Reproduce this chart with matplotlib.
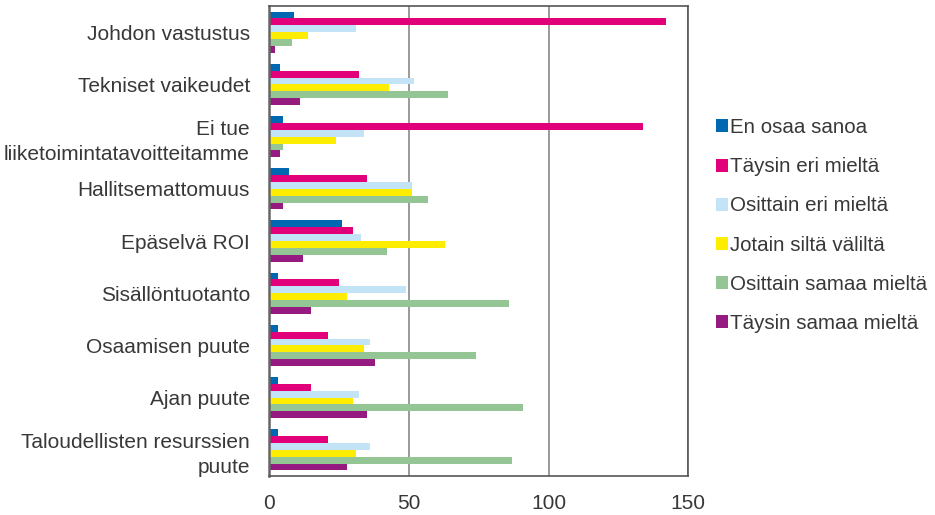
import numpy as np
import matplotlib
matplotlib.use("Agg")
import matplotlib.pyplot as plt

plt.rcParams['font.family'] = ['Liberation Sans', 'DejaVu Sans']

categories = [
    "Johdon vastustus",
    "Tekniset vaikeudet",
    "Ei tue\nliiketoimintatavoitteitamme",
    "Hallitsemattomuus",
    "Epäselvä ROI",
    "Sisällöntuotanto",
    "Osaamisen puute",
    "Ajan puute",
    "Taloudellisten resurssien\npuute",
]

series_names = [
    "En osaa sanoa",
    "Täysin eri mieltä",
    "Osittain eri mieltä",
    "Jotain siltä väliltä",
    "Osittain samaa mieltä",
    "Täysin samaa mieltä",
]

en_osaa_sanoa = [9, 4, 5, 7, 26, 3, 3, 3, 3]
taysin_eri = [142, 32, 134, 35, 30, 25, 21, 15, 21]
osittain_eri = [31, 52, 34, 51, 33, 49, 36, 32, 36]
jotain_valilta = [14, 43, 24, 51, 63, 28, 34, 30, 31]
osittain_samaa = [8, 64, 5, 57, 42, 86, 74, 91, 87]
taysin_samaa = [2, 11, 4, 5, 12, 15, 38, 35, 28]

colors = ["#0068B0", "#E2007A", "#C2E4F6", "#FFED00", "#93C595", "#951B81"]

x_ticks = [0, 50, 100, 150]

values = [en_osaa_sanoa, taysin_eri, osittain_eri,
          jotain_valilta, osittain_samaa, taysin_samaa]

text_color = "#383838"

fig = plt.figure(figsize=(9.35, 5.15), dpi=100)
ax = fig.add_axes([0.288, 0.076, 0.448, 0.912])

n_series = len(values)
bar_h = 0.132
y = np.arange(len(categories))
for i, (vals, col, name) in enumerate(zip(values, colors, series_names)):
    offset = (i - (n_series - 1) / 2) * bar_h
    ax.barh(y + offset, vals, height=bar_h, color=col, label=name,
            linewidth=0, zorder=3)

ax.set_ylim(len(categories) - 0.5, -0.5)
ax.set_xlim(0, 150)
ax.set_xticks(x_ticks)
ax.set_xticklabels([str(t) for t in x_ticks])
ax.set_yticks(y)
ax.set_yticklabels(categories, linespacing=1.4)

ax.tick_params(axis="both", length=0, labelsize=15, colors=text_color)
ax.tick_params(axis="y", pad=14)
ax.tick_params(axis="x", pad=13)

ax.xaxis.grid(True, color="#9a9a9a", linewidth=1.4, zorder=0)
ax.yaxis.grid(False)
for side, sp in ax.spines.items():
    sp.set_color("#555555")
    sp.set_linewidth(1.2)
    sp.set_zorder(4)
ax.spines["left"].set_color("#666666")
ax.spines["left"].set_linewidth(1.8)

handles, labels = ax.get_legend_handles_labels()
leg = fig.legend(handles, labels, loc="center left",
                 bbox_to_anchor=(0.7455, 0.562), frameon=False,
                 fontsize=14.8, handlelength=0.6, handleheight=0.6,
                 handletextpad=0.12, labelspacing=0.98, labelcolor=text_color)

fig.savefig("out.png", dpi=100)
